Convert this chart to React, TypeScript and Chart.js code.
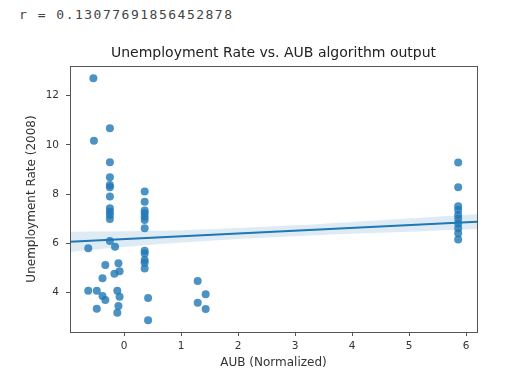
import React, { useEffect, useRef } from "react";
import { Chart, registerables } from "chart.js";

Chart.register(...registerables);

const rText = "r = 0.13077691856452878";
const titleText = "Unemployment Rate vs. AUB algorithm output";
const xLabel = "AUB (Normalized)";
const yLabel = "Unemployment Rate (2008)";

const pointX = [
  -0.54, -0.25, -0.53, -0.25, -0.25, -0.25, -0.25, -0.25, -0.25, -0.25, -0.25, -0.25, -0.25,
  -0.16, -0.63, -0.33, -0.1, -0.08, -0.17, -0.38, -0.63, -0.48, -0.38, -0.33, -0.12, -0.08,
  -0.48, -0.1, -0.12,
  0.36, 0.36, 0.36, 0.36, 0.36, 0.36, 0.36, 0.36, 0.36, 0.36, 0.36, 0.36, 0.42, 0.42,
  1.29, 1.43, 1.29, 1.43,
  5.86, 5.86, 5.86, 5.86, 5.86, 5.86, 5.86, 5.86, 5.86, 5.86,
];
const pointY = [
  12.7, 10.67, 10.17, 9.29, 8.68, 8.37, 8.28, 7.9, 7.42, 7.28, 7.15, 6.99, 6.09,
  5.86, 5.8, 5.12, 5.19, 4.87, 4.77, 4.58, 4.07, 4.07, 3.86, 3.7, 4.07, 3.83,
  3.34, 3.46, 3.18,
  8.1, 7.69, 7.33, 7.22, 7.08, 6.95, 6.61, 5.7, 5.59, 5.32, 5.21, 4.98, 3.78, 2.88,
  4.47, 3.93, 3.59, 3.33,
  9.28, 8.28, 7.51, 7.35, 7.15, 7.0, 6.81, 6.61, 6.41, 6.16,
];

const fitX = [-0.95, 6.19];
const fitY = [6.06, 6.88];

const bandX = [-0.95, 0, 1, 2, 3, 4, 5, 6.19];
const bandUpper = [6.47, 6.49, 6.53, 6.62, 6.73, 6.87, 7.01, 7.18];
const bandLower = [5.65, 5.85, 6.03, 6.18, 6.29, 6.39, 6.47, 6.58];

const xMin = -0.95;
const xMax = 6.19;
const yMin = 2.4;
const yMax = 13.2;

const BLUE = "rgba(31,119,180,0.8)";
const LINE = "#1f77b4";

const framePlugin = {
  id: "frame",
  afterDraw(chart: any) {
    const { ctx, chartArea } = chart;
    ctx.save();
    ctx.strokeStyle = "#555";
    ctx.lineWidth = 1;
    ctx.strokeRect(
      Math.round(chartArea.left) + 0.5,
      Math.round(chartArea.top) + 0.5,
      Math.round(chartArea.right - chartArea.left),
      Math.round(chartArea.bottom - chartArea.top)
    );
    ctx.fillStyle = "#222";
    ctx.font = "14px 'DejaVu Sans', sans-serif";
    ctx.textAlign = "center";
    ctx.textBaseline = "middle";
    ctx.fillText(titleText, (chartArea.left + chartArea.right) / 2, chartArea.top - 13);
    ctx.restore();
  },
};

export default function App() {
  const ref = useRef<HTMLCanvasElement>(null);

  useEffect(() => {
    if (!ref.current) return;
    Chart.defaults.font.family = "'DejaVu Sans', sans-serif";
    const scatter = pointX.map((x, i) => ({ x, y: pointY[i] }));
    const fit = fitX.map((x, i) => ({ x, y: fitY[i] }));
    const up = bandX.map((x, i) => ({ x, y: bandUpper[i] }));
    const lo = bandX.map((x, i) => ({ x, y: bandLower[i] }));

    const chart = new Chart(ref.current, {
      type: "scatter",
      data: {
        datasets: [
          {
            type: "line",
            data: fit,
            borderColor: LINE,
            borderWidth: 2,
            pointRadius: 0,
            fill: false,
            order: 0,
          } as any,
          {
            type: "line",
            data: up,
            borderWidth: 0,
            borderColor: "rgba(0,0,0,0)",
            backgroundColor: "rgba(31,119,180,0.15)",
            pointRadius: 0,
            fill: "+1",
            tension: 0.3,
            order: 1,
          } as any,
          {
            type: "line",
            data: lo,
            borderWidth: 0,
            borderColor: "rgba(0,0,0,0)",
            pointRadius: 0,
            fill: false,
            tension: 0.3,
            order: 1,
          } as any,
          {
            data: scatter,
            backgroundColor: BLUE,
            borderColor: BLUE,
            borderWidth: 0,
            pointRadius: 4,
            order: 3,
          },
        ],
      },
      options: {
        responsive: false,
        animation: false,
        layout: { padding: { left: 0, right: 35, top: 66, bottom: 10 } },
        plugins: {
          legend: { display: false },
          tooltip: { enabled: false },
          title: { display: false },
        },
        scales: {
          x: {
            type: "linear",
            min: xMin,
            max: xMax,
            afterFit: (s: any) => {
              s.height = 45;
            },
            border: { display: false },
            grid: {
              drawOnChartArea: false,
              drawTicks: true,
              tickLength: 4,
              color: "#555",
            },
            ticks: {
              stepSize: 1,
              includeBounds: false,
              color: "#333",
              font: { size: 10.5 },
              padding: 4,
              maxRotation: 0,
            },
            title: {
              display: true,
              text: xLabel,
              color: "#333",
              font: { size: 12, lineHeight: 1.2 },
              padding: { top: 0, bottom: 6.5 },
            },
          },
          y: {
            type: "linear",
            min: yMin,
            max: yMax,
            afterFit: (s: any) => {
              s.width = 70;
            },
            border: { display: false },
            grid: {
              drawOnChartArea: false,
              drawTicks: true,
              tickLength: 4,
              color: "#555",
            },
            ticks: {
              stepSize: 2,
              includeBounds: false,
              color: "#333",
              font: { size: 10.5 },
              padding: 7,
            },
            title: {
              display: true,
              text: yLabel,
              color: "#333",
              font: { size: 12, lineHeight: 1.2 },
              padding: { top: 24.5, bottom: 0 },
            },
          },
        },
      },
      plugins: [framePlugin],
    });
    return () => chart.destroy();
  }, []);

  return (
    <div style={{ position: "fixed", left: 0, top: 0, width: 512, height: 387, background: "#fff" }}>
      <div
        style={{
          position: "absolute",
          left: 19,
          top: 6,
          fontFamily: "'DejaVu Sans Mono', monospace",
          fontSize: 13,
          lineHeight: "18px",
          letterSpacing: "1.5px",
          color: "#444",
          whiteSpace: "pre",
        }}
      >
        {rText}
      </div>
      <canvas ref={ref} width={512} height={387} style={{ position: "absolute", left: 0, top: 0 }} />
    </div>
  );
}
